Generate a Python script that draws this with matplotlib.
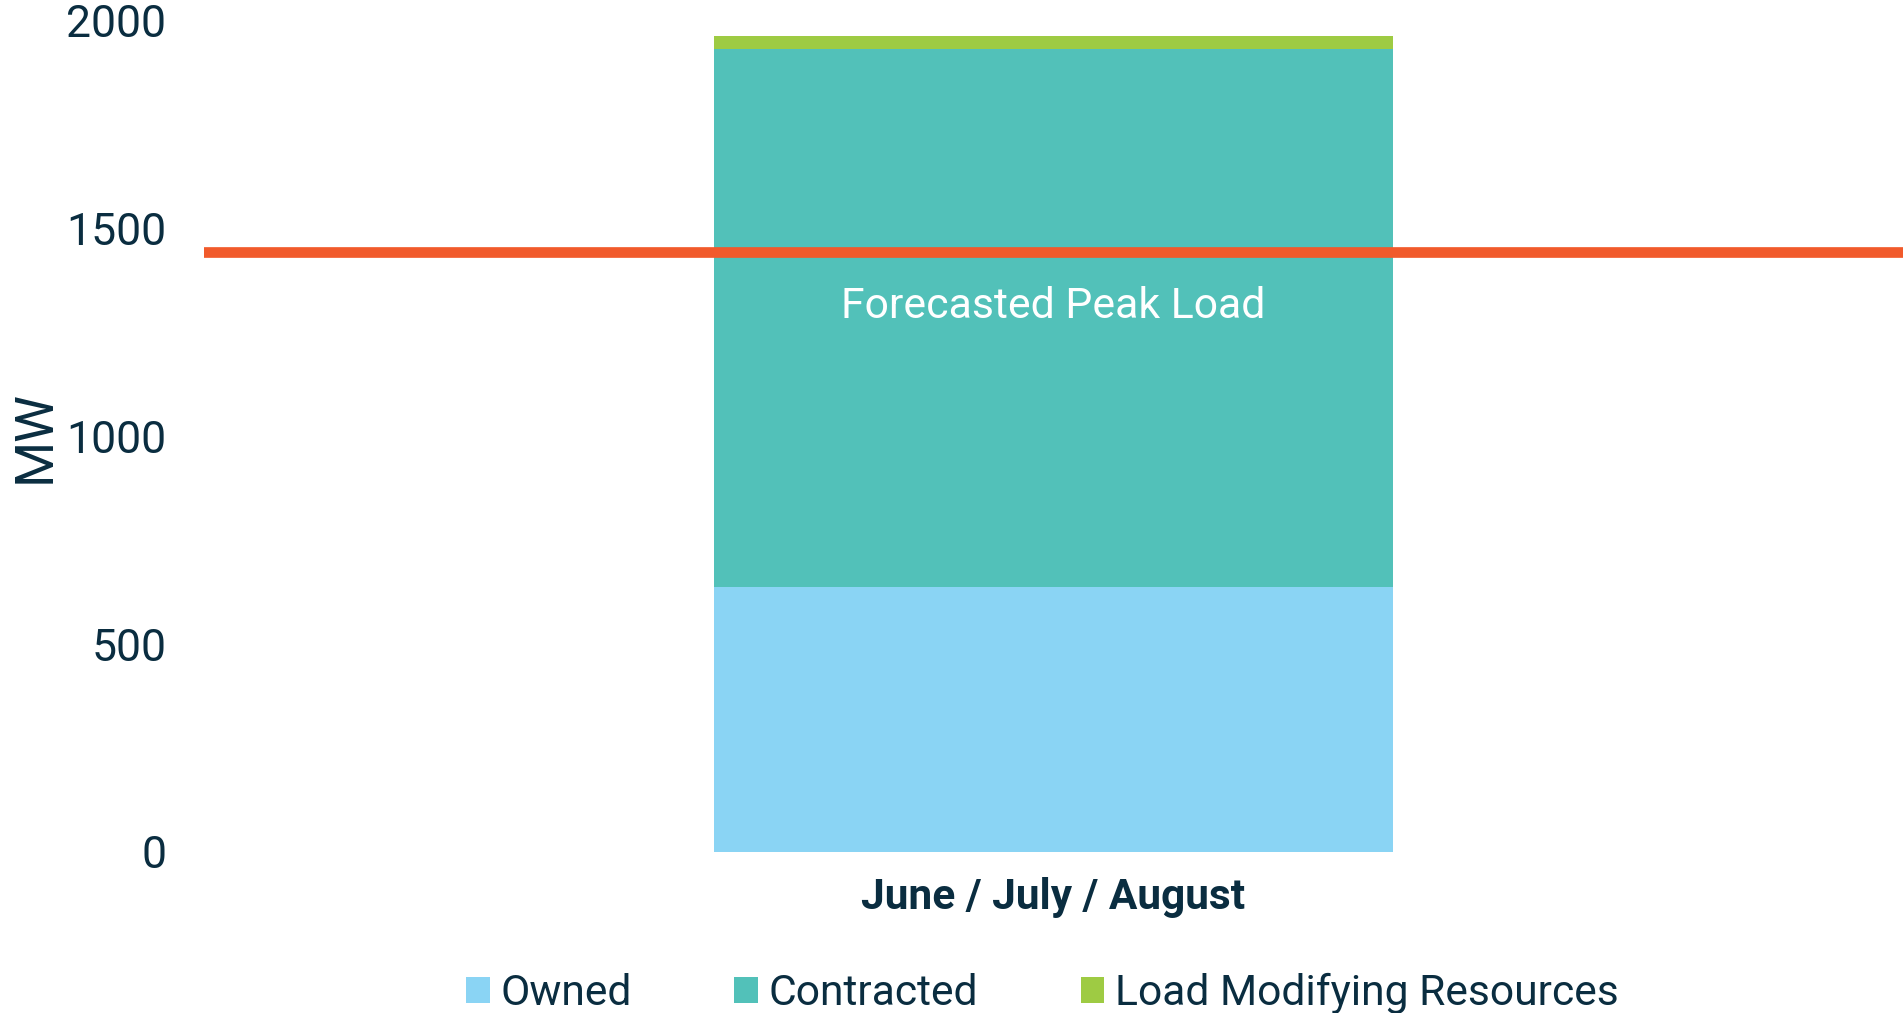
import matplotlib.pyplot as plt

plt.rcParams['font.family'] = ['Roboto', 'DejaVu Sans']

# Data
categories = ['June / July / August']
owned = [638]
contracted = [1295]
load_modifying = [31]
peak_load = 1444

text_color = '#0A2D40'
c_owned = '#8AD4F4'
c_contracted = '#52C1B9'
c_lmr = '#9ECB43'
c_peak = '#F15A2B'

fig = plt.figure(figsize=(19.03, 10.13), dpi=100)
ax = fig.add_axes([204 / 1903, 1 - 852 / 1013, 1699 / 1903, (852 - 21) / 1013])

x = range(len(categories))
bottom2 = [o + c for o, c in zip(owned, contracted)]
ax.bar(x, owned, width=0.4, color=c_owned, label='Owned')
ax.bar(x, contracted, width=0.4, bottom=owned, color=c_contracted, label='Contracted')
ax.bar(x, load_modifying, width=0.4, bottom=bottom2, color=c_lmr, label='Load Modifying Resources')

# Forecasted peak load line
ax.axhline(peak_load, color=c_peak, linewidth=7.7, zorder=3)
ax.text(0, 1312, 'Forecasted Peak Load', color='white', fontsize=30.8, ha='center', va='center')

ax.set_xlim(-0.5, 0.5)
ax.set_ylim(0, 2000)
ax.set_yticks([0, 500, 1000, 1500, 2000])
ax.set_xticks(list(x))
ax.set_xticklabels(categories, fontsize=30.5, fontweight='bold', color=text_color)
ax.tick_params(axis='y', labelsize=32, labelcolor=text_color, length=0, pad=27)
ax.tick_params(axis='x', length=0, pad=18)
ax.set_ylabel('MW', fontsize=38, fontweight='normal', color=text_color, labelpad=4)

for s in ax.spines.values():
    s.set_visible(False)

ax.legend(loc='center', bbox_to_anchor=(0.4936, -0.17), ncol=3, frameon=False,
          fontsize=30.7, labelcolor=text_color, handlelength=0.55, handleheight=0.55,
          handletextpad=0.26, columnspacing=2.4)

fig.savefig('out.png', dpi=100)
